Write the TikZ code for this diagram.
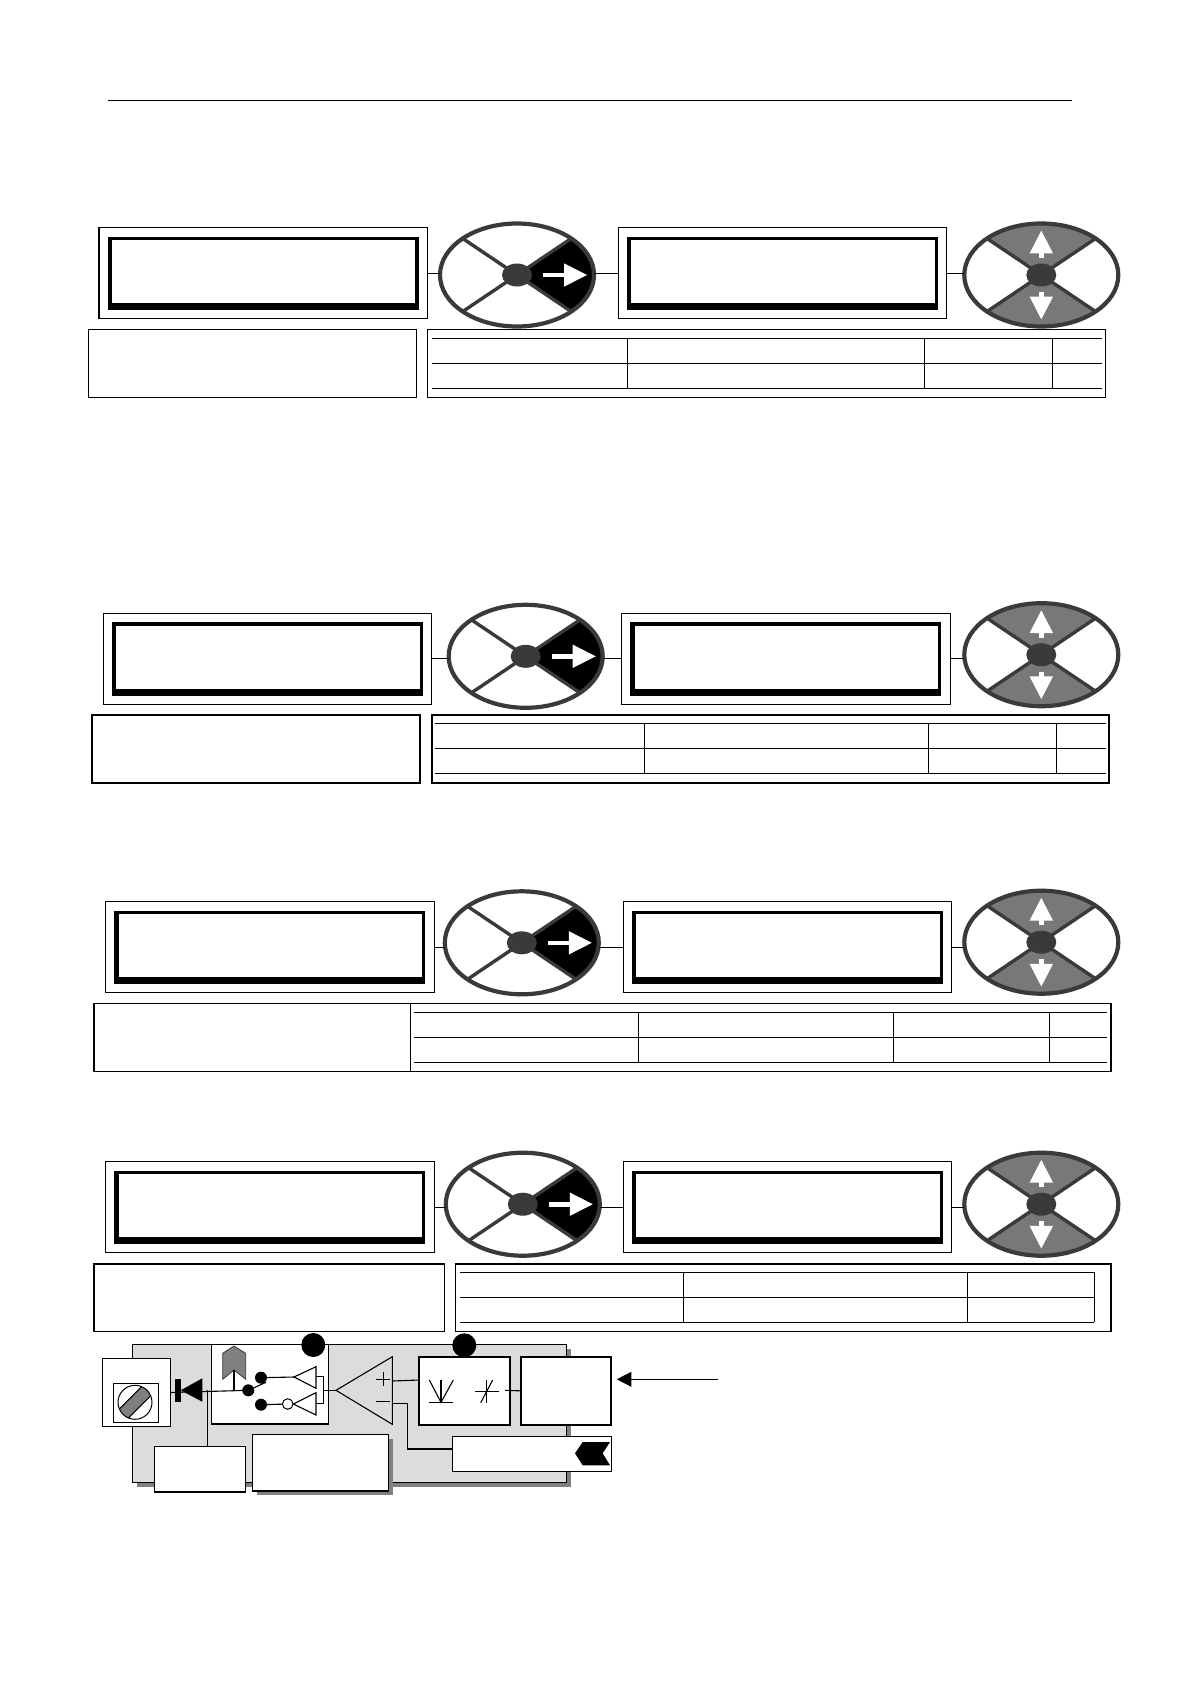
\documentclass[tikz,border=0pt]{standalone}
\usepackage{tikz}
\usetikzlibrary{arrows.meta,shapes.geometric}
\usepackage{xcolor}
\definecolor{keydark}{HTML}{3A3A3A}
\definecolor{keygray}{HTML}{787878}
\definecolor{panelgray}{HTML}{DCDCDC}
\definecolor{shadowgray}{HTML}{808080}
\tikzset{
  panelbox/.style={draw,fill=white,inner sep=0pt,outer sep=0pt,line width=1.2pt,anchor=north west},
  lcdframe/.style={panelbox,minimum width=328.4pt,minimum height=91pt},
  keyring/.style={ellipse,draw=keydark,line width=4.2pt,inner sep=0pt,outer sep=0pt,minimum width=154pt,minimum height=103pt},
  keyhub/.style={ellipse,fill=keydark,inner sep=0pt,minimum width=30pt,minimum height=23pt},
  keyspoke/.style={draw=keydark,line width=3.4pt},
  wire/.style={line width=1.1pt},
  rule/.style={line width=1pt},
  dot/.style={circle,fill=black,inner sep=0pt,minimum size=12pt},
  bigdot/.style={circle,fill=black,inner sep=0pt,minimum size=24pt},
}
\newcommand{\lcdpanel}[3]{%
  \node[lcdframe] (#1) at (#2,#3) {};
  \fill[black] (#2+8.7,#3+9) rectangle (#2+319.7,#3+82.5);
  \fill[white] (#2+12.9,#3+12.4) rectangle (#2+316.5,#3+75.5);
}
\newcommand{\sectorright}{%
  \fill[black] (0,0) -- (100,-67) -- (100,67) -- cycle;
  \fill[white] (26,-2) rectangle (47,2.3);
  \fill[white] (47,-11.7) -- (70,0) -- (47,11.7) -- cycle;
}
\newcommand{\sectorupdown}{%
  \fill[keygray] (0,0) -- (-100,-67) -- (100,-67) -- cycle;
  \fill[keygray] (0,0) -- (-100,67) -- (100,67) -- cycle;
  \fill[white] (0,-44.3) -- (11.7,-21.7) -- (-11.7,-21.7) -- cycle;
  \fill[white] (-2.3,-22) rectangle (2.3,-17);
  \fill[white] (0,44.3) -- (11.7,21.7) -- (-11.7,21.7) -- cycle;
  \fill[white] (-2.3,22) rectangle (2.3,17);
}
\newcommand{\keypad}[4]{%
  \begin{scope}[shift={(#2,#3)}]
  \fill[white] (0,0) ellipse [x radius=77,y radius=51.7];
  \begin{scope}
  \clip (0,0) ellipse [x radius=77,y radius=51.7];
  #4
  \end{scope}
  \draw[keyspoke] (-54.4,-36.6) -- (54.4,36.6);
  \draw[keyspoke] (-54.4,36.6) -- (54.4,-36.6);
  \node[keyring] (#1) at (0,0) {};
  \node[keyhub] (#1hub) at (0,0) {};
  \end{scope}
}
\newcommand{\tablerules}[4]{%
  \draw[rule] (#1,#3) -- (#2,#3);
  \draw[rule] (#1,#3+25) -- (#2,#3+25);
  \draw[rule] (#1,#3+50) -- (#2,#3+50);
  \foreach \xv in {#4} \draw[rule] (\xv,#3) -- (\xv,#3+50);
}
\begin{document}
\begin{tikzpicture}[x=1pt,y=-1pt,>={Triangle[length=14.6pt,width=14.7pt]}]
\useasboundingbox (0,0) rectangle (1190,1684);
\draw[rule] (108,100.5) -- (1071.9,100.5);

\lcdpanel{lcdAa}{98.9}{227.7}
\lcdpanel{lcdAb}{618.2}{227.7}
\keypad{keyAa}{517}{275}{\sectorright}
\keypad{keyAb}{1041.3}{275}{\sectorupdown}
\draw[wire] (lcdAa.east) -- (lcdAa.east -| keyAa.west);
\draw[wire] (keyAa.east |- lcdAb.west) -- (lcdAb.west);
\draw[wire] (lcdAb.east) -- (lcdAb.east -| keyAb.west);
\node[panelbox,minimum width=328.6pt,minimum height=68pt] (infoA) at (88.2,329.3) {};
\node[panelbox,minimum width=678.2pt,minimum height=68pt] (tableA) at (427.5,329.3) {};
\tablerules{432.1}{1102}{338.3}{627.3,924.3,1052.7}

\lcdpanel{lcdBa}{103.3}{613.3}
\lcdpanel{lcdBb}{621.7}{613.3}
\keypad{keyBa}{525.7}{656.3}{\sectorright}
\keypad{keyBb}{1041.3}{654.7}{\sectorupdown}
\draw[wire] (lcdBa.east) -- (lcdBa.east -| keyBa.west);
\draw[wire] (keyBa.east |- lcdBb.west) -- (lcdBb.west);
\draw[wire] (lcdBb.east) -- (lcdBb.east -| keyBb.west);
\node[panelbox,line width=1.7pt,minimum width=327.7pt,minimum height=67.7pt] (infoB) at (92.3,715) {};
\node[panelbox,line width=1.7pt,minimum width=677.6pt,minimum height=67.7pt] (tableB) at (431.7,715) {};
\tablerules{435}{1106}{723.3}{644.3,928.3,1056.7}

\lcdpanel{lcdCa}{105.7}{901.7}
\lcdpanel{lcdCb}{623.3}{901.7}
\keypad{keyCa}{521.8}{942.8}{\sectorright}
\keypad{keyCb}{1041.3}{942.2}{\sectorupdown}
\draw[wire] (lcdCa.east) -- (lcdCa.east -| keyCa.west);
\draw[wire] (keyCa.east |- lcdCb.west) -- (lcdCb.west);
\draw[wire] (lcdCb.east) -- (lcdCb.east -| keyCb.west);
\node[panelbox,minimum width=316.3pt,minimum height=67.6pt] (infoC) at (94,1003.7) {};
\node[panelbox,minimum width=700.7pt,minimum height=67.6pt] (tableC) at (410.3,1003.7) {};
\tablerules{414}{1106.7}{1012.3}{638.3,893.3,1049.3}

\lcdpanel{lcdDa}{105.7}{1161.7}
\lcdpanel{lcdDb}{623.3}{1161.7}
\keypad{keyDa}{522.8}{1204.2}{\sectorright}
\keypad{keyDb}{1041.3}{1204.2}{\sectorupdown}
\draw[wire] (lcdDa.east) -- (lcdDa.east -| keyDa.west);
\draw[wire] (keyDa.east |- lcdDb.west) -- (lcdDb.west);
\draw[wire] (lcdDb.east) -- (lcdDb.east -| keyDb.west);
\node[panelbox,minimum width=350.3pt,minimum height=67.3pt] (infoD) at (94,1264) {};
\node[panelbox,minimum width=655.3pt,minimum height=67.3pt] (tableD) at (455.7,1264) {};
\tablerules{460}{1094.3}{1272.3}{683.3,967.3,1094.3}

\fill[shadowgray] (136.6,1348.6) rectangle (571,1486.7);
\draw[fill=panelgray,line width=1.4pt] (132.3,1344.3) rectangle (566.7,1482.3);
\node[panelbox,minimum width=117pt,minimum height=79.7pt] (switchbox) at (211.7,1344.3) {};
\node[panelbox,line width=1.7pt,minimum width=90.7pt,minimum height=68.3pt] (compbox) at (419,1356.7) {};
\node[panelbox,line width=1.7pt,minimum width=90.6pt,minimum height=68.3pt] (loopbox) at (520.7,1356.7) {};
\node[panelbox,line width=1pt,minimum width=158.6pt,minimum height=35pt] (fbbox) at (452.7,1436.3) {};
\node[panelbox,line width=1pt,minimum width=68.4pt,minimum height=68.4pt] (potbox) at (102.3,1358.3) {};
\node[panelbox,line width=1pt,minimum width=45pt,minimum height=39.4pt] (potinner) at (113.3,1383.3) {};
\node[panelbox,line width=1.3pt,minimum width=91pt,minimum height=45.3pt] (smallbox) at (154.7,1446.7) {};
\fill[shadowgray] (256.7,1438.7) rectangle (392.7,1495.3);
\node[panelbox,line width=1.3pt,minimum width=136pt,minimum height=56.3pt] (widebox) at (252.7,1434.7) {};
\node[bigdot] (markA) at (313.3,1345) {};
\node[bigdot] (markB) at (464.3,1345.3) {};

\begin{scope}[shift={(135,1402.3)}]
\clip (0,0) circle (17);
\draw[fill=shadowgray,line width=1pt] (-18.5,9.5) -- (-9.5,18.5) -- (18.5,-9.5) -- (9.5,-18.5) -- cycle;
\end{scope}
\node[circle,draw,line width=1pt,inner sep=0pt,minimum size=34pt] (potdial) at (135,1402.3) {};

\coordinate (junction) at (207.3,1390.3);
\coordinate (amptip) at (336,1390.3);
\coordinate (swpole) at (248.3,1390.3);
\draw[wire] (potbox.east) -- (swpole);
\draw[wire] (junction) -- (junction |- smallbox.north);
\fill[black] (175.3,1379) rectangle (180.7,1401.7);
\fill[black] (180.7,1390.3) -- (202.3,1378.3) -- (202.3,1401.7) -- cycle;
\draw[fill=shadowgray,draw=keydark,line width=0.8pt] (222.7,1379.3) -- (222.7,1353.3) -- (234,1346) -- (245.7,1353.3) -- (245.7,1379.3) -- (234,1370) -- cycle;
\draw[wire] (234,1370) -- (234,1390.3);
\node[dot] (swdot) at (swpole) {};
\node[dot] (swup) at (261,1377.7) {};
\node[dot] (swdown) at (261,1404.7) {};
\draw[wire] (swdot) -- (266,1382.3);
\draw[wire,fill=white] (294,1377) -- (316,1366.7) -- (316,1388.3) -- cycle;
\draw[wire,fill=white] (293.3,1404) -- (316,1392.7) -- (316,1415) -- cycle;
\node[circle,draw,fill=white,line width=1pt,inner sep=0pt,minimum size=10.6pt] (invdot) at (287.7,1404) {};
\draw[wire] (swup) -- (294,1377);
\draw[wire] (swdown) -- (invdot);
\draw[wire] (316,1376.7) -- (323.3,1376.7) -- (323.3,1403.3) -- (316,1403.3);
\draw[wire] (323.3,1390.3) -- (amptip);
\draw[wire] (amptip) -- (392.3,1356.7) -- (392.3,1424.3) -- cycle;
\draw[line width=1.3pt] (376.3,1379.3) -- (390.3,1379.3) (383.3,1372.3) -- (383.3,1386.3);
\draw[line width=1.3pt] (376.3,1401.7) -- (390.3,1401.7);
\draw[wire] (392.3,1381) -- (compbox.west |- 0,1380);
\draw[wire] (392.3,1403.3) -- (407.3,1403.3) -- (407.3,1449) -- (fbbox.west |- 0,1449);
\draw[wire] (429.3,1380) -- (441,1402.3) -- (453.3,1380);
\draw[wire] (441,1380) -- (441,1402.3);
\draw[wire] (429.3,1402.3) -- (453.3,1402.3);
\draw[wire] (475,1391.7) -- (498.7,1391.7);
\draw[wire] (486.7,1380) -- (486.7,1403.3);
\draw[wire] (492.7,1380) -- (480.7,1402.7);
\draw[wire] (505,1390.3) -- (loopbox.west);
\fill[black] (575,1453.3) -- (582.7,1442) -- (610,1442) -- (602.7,1453.3) -- (610,1465.3) -- (582.7,1465.3) -- cycle;
\coordinate (sigsource) at (717.7,1379.3);
\coordinate (siginput) at (616.7,1379.3);
\draw[->,wire] (sigsource) -- (siginput);
\end{tikzpicture}
\end{document}
